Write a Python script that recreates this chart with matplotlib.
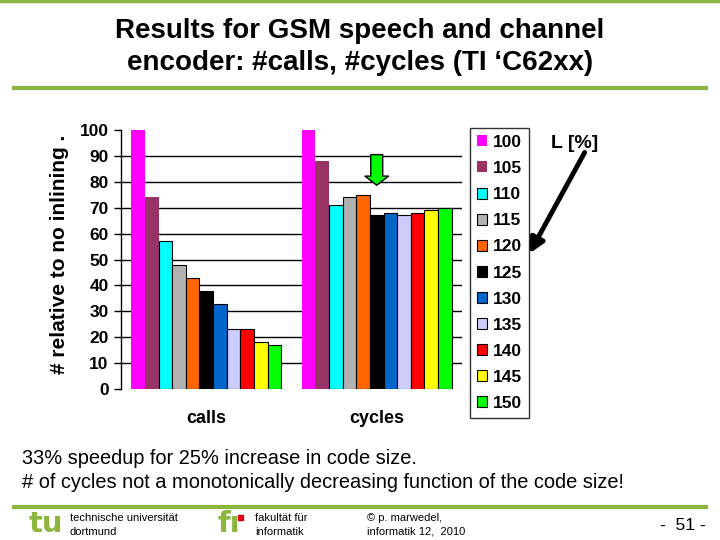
import matplotlib
matplotlib.use("Agg")
import matplotlib.pyplot as plt
from matplotlib.patches import FancyArrow, FancyArrowPatch, Rectangle
from matplotlib.lines import Line2D
import numpy as np

categories = ["calls", "cycles"]
inline_limits = ["100", "105", "110", "115", "120", "125", "130", "135", "140", "145", "150"]
calls_values = [100, 74, 57, 48, 43, 38, 33, 23, 23, 18, 17]
cycles_values = [100, 88, 71, 74, 75, 67, 68, 67, 68, 69, 70]
bar_colors = ["#FF00FF", "#993366", "#00FFFF", "#B2B2B2", "#FF6600", "#000000",
              "#0066CC", "#CCCCFF", "#FF0000", "#FFFF00", "#00FF00"]
yticks = list(range(0, 101, 10))

GREEN = "#8CB63C"
plt.rcParams['font.family'] = ['Liberation Sans', 'DejaVu Sans']

fig = plt.figure(figsize=(7.2, 5.4), dpi=100)
ax = fig.add_axes([121/720, 1 - 389/540, 341/720, 259/540])

n = len(inline_limits)
group_w = 0.88
bw = group_w / n
x = np.arange(len(categories))
for i in range(n):
    vals = [calls_values[i], cycles_values[i]]
    ec = 'none' if i < 2 else 'black'
    ax.bar(x - group_w/2 + bw*(i + 0.5), vals, width=bw, color=bar_colors[i],
           edgecolor=ec, linewidth=0.8, label=inline_limits[i], zorder=3)

ax.set_xlim(-0.5, 1.5)
ax.set_ylim(0, 100)
ax.set_yticks(yticks)
ax.set_yticklabels([str(t) for t in yticks], fontsize=12.5, fontweight='bold')
ax.set_xticks(x)
ax.set_xticklabels(categories, fontsize=13, fontweight='bold')
ax.tick_params(axis='x', length=0, pad=15)
ax.tick_params(axis='y', length=5, width=1, pad=4, direction='out')
for y in yticks[1:-1]:
    ax.axhline(y, color='black', linewidth=1, zorder=1)
for s in ['top', 'right', 'bottom']:
    ax.spines[s].set_visible(False)
ax.spines['left'].set_linewidth(1)
ax.set_ylabel("# relative to no inlining .", fontsize=15, fontweight='bold')
ax.yaxis.set_label_coords(-0.152, 0.52)

# green arrow marking best point
ax.add_patch(FancyArrow(1.0, 90.5, 0, -11.8, width=0.07, head_width=0.14,
                        head_length=3.5, length_includes_head=True,
                        facecolor="#00FF00", edgecolor='black', linewidth=1, zorder=5))

leg = fig.legend(loc='upper left', bbox_to_anchor=(470/720, 1 - 128/540),
                 frameon=True, fancybox=False, edgecolor='black',
                 prop={'size': 12.5, 'weight': 'bold'}, handlelength=0.6, handleheight=0.6,
                 handletextpad=0.3, labelspacing=0.64, borderpad=0.4, borderaxespad=0)
leg.get_frame().set_linewidth(1)

fig.text(575/720, 1 - 143/540, "L [%]", fontsize=14, fontweight='bold', ha='center', va='center')
fig.add_artist(FancyArrowPatch((586/720, 1 - 150/540), (528/720, 1 - 256/540),
                               transform=fig.transFigure, arrowstyle='-|>',
                               mutation_scale=22, linewidth=3.5, color='black'))

# title
fig.text(360/720, 1 - 31/540, "Results for GSM speech and channel", fontsize=20,
         fontweight='bold', ha='center', va='center')
fig.text(360/720, 1 - 63/540, "encoder: #calls, #cycles (TI \u2018C62xx)", fontsize=20,
         fontweight='bold', ha='center', va='center')

# decorative lines
fig.add_artist(Line2D([0, 1], [1 - 1/540, 1 - 1/540], color=GREEN, linewidth=2.5))
fig.add_artist(Line2D([14/720, 706/720], [1 - 88/540, 1 - 88/540], color=GREEN, linewidth=3))
fig.add_artist(Line2D([14/720, 706/720], [1 - 507/540, 1 - 507/540], color=GREEN, linewidth=3))

# bottom text
fig.text(22/720, 1 - 459/540, "33% speedup for 25% increase in code size.", fontsize=14.4,
         ha='left', va='center')
fig.text(22/720, 1 - 483/540, "# of cycles not a monotonically decreasing function of the code size!",
         fontsize=14.4, ha='left', va='center')

# footer
fig.text(29/720, 1 - 524/540, "tu", fontsize=21, color=GREEN, fontweight='bold',
         ha='left', va='center', family=['DejaVu Sans'])
fig.text(70/720, 1 - 518/540, "technische universit\u00e4t", fontsize=8, ha='left', va='center')
fig.text(70/720, 1 - 532/540, "dortmund", fontsize=8, ha='left', va='center')
fig.text(218/720, 1 - 524/540, "f\u0131", fontsize=21, color=GREEN, fontweight='bold',
         ha='left', va='center', family=['DejaVu Sans'])
fig.add_artist(Rectangle((238/720, 1 - 520/540), 5/720, 5/540, color='#E2001A',
                         transform=fig.transFigure))
fig.text(255/720, 1 - 518/540, "fakult\u00e4t f\u00fcr", fontsize=8, ha='left', va='center')
fig.text(255/720, 1 - 532/540, "informatik", fontsize=8, ha='left', va='center')
fig.text(367/720, 1 - 518/540, "\u00a9 p. marwedel,", fontsize=8, ha='left', va='center')
fig.text(367/720, 1 - 532/540, "informatik 12,  2010", fontsize=8, ha='left', va='center')
fig.text(683/720, 1 - 525/540, "-  51 -", fontsize=12.5, ha='center', va='center')

fig.savefig("out.png", dpi=100)
